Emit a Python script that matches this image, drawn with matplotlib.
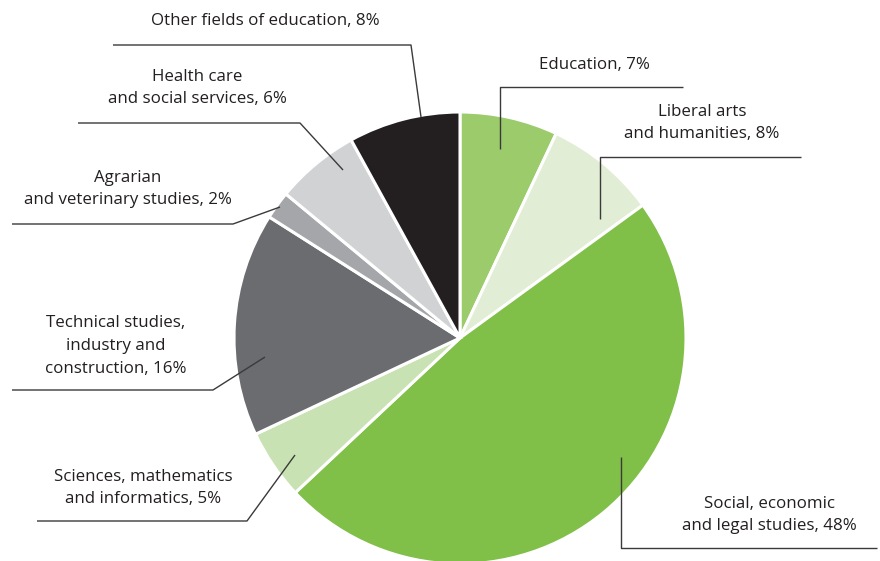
import matplotlib.pyplot as plt

# shares by field of education, clockwise from 12 o'clock
labels = ["Education, 7%",
          "Liberal arts\nand humanities, 8%",
          "Social, economic\nand legal studies, 48%",
          "Sciences, mathematics\nand informatics, 5%",
          "Technical studies,\nindustry and\nconstruction, 16%",
          "Agrarian\nand veterinary studies, 2%",
          "Health care\nand social services, 6%",
          "Other fields of education, 8%"]
shares = [7, 8, 48, 5, 16, 2, 6, 8]
colors = ["#9ccb6b", "#e2edd5", "#80bf48", "#c9e2b3",
          "#6b6c70", "#a5a6a9", "#d1d2d4", "#231f20"]

W, H = 880, 561
fig = plt.figure(figsize=(W / 100, H / 100), dpi=100)
ax = fig.add_axes([0, 0, 1, 1])

# work in pixel coordinates (y flipped so it runs upward)
def py(y):
    return H - y

ax.pie(shares, colors=colors, startangle=90, counterclock=False,
       center=(460, py(338)), radius=226,
       wedgeprops=dict(edgecolor="white", linewidth=2.2))

# leader lines: polyline points in pixels, text centre
leaders = [
    ([(500, 149), (500, 87), (683, 87)], (594, 65)),
    ([(600, 219), (600, 157), (801, 157)], (702, 123)),
    ([(621, 457), (621, 548), (877, 548)], (769, 515)),
    ([(295, 455), (247, 521), (37, 521)], (143, 488)),
    ([(265, 357), (213, 390), (12, 390)], (116, 346)),
    ([(280, 207), (233, 224), (12, 224)], (128, 189)),
    ([(343, 170), (300, 123), (78, 123)], (197, 88)),
    ([(421, 117), (411, 45), (113, 45)], (265, 21)),
]

for lab, (pts, (tx, ty)) in zip(labels, leaders):
    xs = [p[0] for p in pts]
    ys = [py(p[1]) for p in pts]
    ax.plot(xs, ys, color="#3a3a3a", lw=1.0, solid_capstyle="butt")
    ax.text(tx, py(ty), lab, ha="center", va="center", fontsize=12.2,
            family="Open Sans", color="#231f20", linespacing=1.55)

ax.set_xlim(0, W)
ax.set_ylim(0, H)
ax.set_aspect("equal")
ax.axis("off")

fig.savefig("out.png", dpi=100, facecolor="white")
